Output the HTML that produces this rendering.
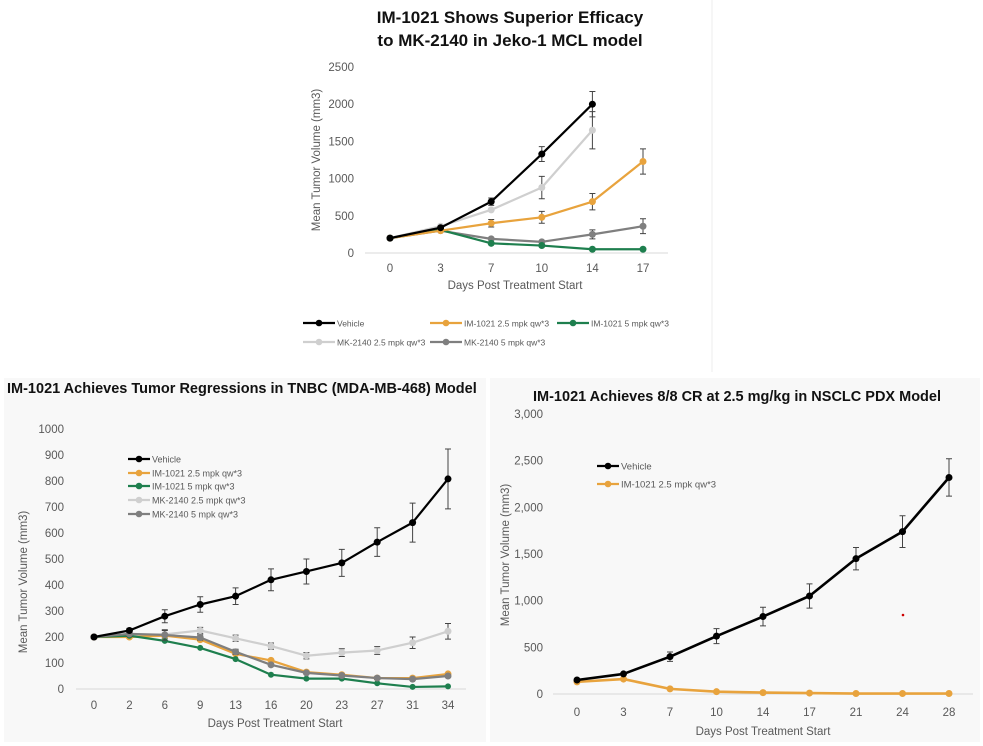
<!DOCTYPE html>
<html><head><meta charset="utf-8">
<style>
html,body{margin:0;padding:0;background:#fff;}
svg{display:block;font-family:"Liberation Sans",sans-serif;}
</style></head>
<body>
<svg id="c" width="983" height="746" viewBox="0 0 983 746">
<rect x="4" y="378" width="482" height="364" fill="#f8f8f8"/>
<rect x="490" y="378" width="490" height="364" fill="#f8f8f8"/>
<line x1="712" y1="0" x2="712" y2="372" stroke="#eee"/>
<text x="510" y="23" font-size="17" font-weight="bold" text-anchor="middle" fill="#111">IM-1021 Shows Superior Efficacy</text>
<text x="510" y="46" font-size="17" font-weight="bold" text-anchor="middle" fill="#111">to MK-2140 in Jeko-1 MCL model</text>
<text x="7" y="393" font-size="14.5" font-weight="bold" fill="#111">IM-1021 Achieves Tumor Regressions in TNBC (MDA-MB-468) Model</text>
<text x="737" y="401" font-size="14.5" font-weight="bold" text-anchor="middle" fill="#111">IM-1021 Achieves 8/8 CR at 2.5 mg/kg in NSCLC PDX Model</text>
<circle cx="903" cy="615" r="1.3" fill="#c00"/>
</svg>
<script>
// ---- Top chart (Jeko-1) ----
const topDays = ["0","3","7","10","14","17"];
const topTicks = [0,500,1000,1500,2000,2500];
const topVehicle = [200,340,690,1330,2000,null];
const topVehicleErr = [0,0,50,100,170,0];
const topMk25 = [200,360,580,880,1650,null];
const topMk25Err = [0,0,0,150,250,0];
const topIm25 = [200,300,400,480,690,1230];
const topIm25Err = [0,0,50,80,110,170];
const topIm5 = [200,310,130,100,50,50];
const topIm5Err = [0,0,0,0,0,0];
const topMk5 = [200,300,190,150,250,360];
const topMk5Err = [0,0,0,0,60,100];
// ---- TNBC chart ----
const tnbcDays = ["0","2","6","9","13","16","20","23","27","31","34"];
const tnbcTicks = [0,100,200,300,400,500,600,700,800,900,1000];
const tnbcVehicle = [200,225,280,325,357,420,452,485,565,640,808];
const tnbcVehicleErr = [0,8,25,30,32,42,48,52,55,75,115];
const tnbcMk25 = [200,210,210,225,195,165,128,140,148,178,222];
const tnbcMk25Err = [0,10,15,12,12,12,12,15,15,22,30];
const tnbcIm25 = [200,200,205,190,135,110,65,55,42,42,58];
const tnbcIm5 = [200,205,185,158,115,55,40,40,22,8,10];
const tnbcMk5 = [200,212,208,198,143,93,62,52,42,38,50];
const tnbcMk5Err = [0,10,20,10,10,5,5,5,5,5,5];
// ---- NSCLC chart ----
const nsDays = ["0","3","7","10","14","17","21","24","28"];
const nsTicks = [0,500,1000,1500,2000,2500,3000];
const nsTickLabels = ["0","500","1,000","1,500","2,000","2,500","3,000"];
const nsVehicle = [150,215,400,620,830,1050,1450,1740,2320];
const nsVehicleErr = [0,0,50,80,100,130,120,170,200];
const nsIm25 = [130,160,55,25,15,10,5,5,5];

const svg = document.getElementById('c');
const NS = 'http://www.w3.org/2000/svg';
function mk(tag, attrs, parent){
  const e = document.createElementNS(NS, tag);
  for (const k in attrs) e.setAttribute(k, attrs[k]);
  (parent||svg).appendChild(e);
  return e;
}
const BLACK='#000', ORANGE='#e8a33d', GREEN='#1e7f4e', LGRAY='#cfcfcf', DGRAY='#7f7f7f';

function chart(cfg){
  const g = mk('g', {});
  
  
  const n = cfg.cats.length;
  const xs = i => cfg.x0 + i*(cfg.x1-cfg.x0)/(n-1);
  const ys = v => cfg.y0 - (v/cfg.ymax)*(cfg.y0-cfg.ytop);
  const ax = mk('line', {x1:cfg.ax0, x2:cfg.ax1, y1:cfg.y0, y2:cfg.y0, stroke:'#d9d9d9', 'stroke-width':1}, g);
  
  
  cfg.ticks.forEach((t,i)=>{
    const tx = mk('text', {x:cfg.ylx, y:ys(t)+4, 'font-size':cfg.fs, fill:'#595959', 'text-anchor':'end'}, g);
    tx.textContent = cfg.tickLabels ? cfg.tickLabels[i] : t;
    
    
  });
  cfg.cats.forEach((c,i)=>{
    const tx = mk('text', {x:xs(i), y:cfg.xly, 'font-size':cfg.fs, fill:'#595959', 'text-anchor':'middle'}, g);
    tx.textContent = c;
    
    
  });
  const xt = mk('text', {x:cfg.xtx, y:cfg.xty, 'font-size':cfg.fs, fill:'#595959', 'text-anchor':'middle'}, g);
  xt.textContent = 'Days Post Treatment Start';
  
  
  const yt = mk('text', {x:0, y:0, 'font-size':cfg.fs, fill:'#595959', 'text-anchor':'middle', transform:`translate(${cfg.ytx},${cfg.yty}) rotate(-90)`}, g);
  yt.textContent = 'Mean Tumor Volume (mm3)';
  
  
  cfg.series.forEach(s=>{
    const sg = mk('g', {}, g);
    
    
    if (s.err) s.vals.forEach((v,i)=>{
      if (v==null || !s.err[i]) return;
      const x = xs(i), a = ys(v+s.err[i]), b = ys(v-s.err[i]);
      const el = mk('path', {d:`M${x},${a}V${b}M${x-3},${a}H${x+3}M${x-3},${b}H${x+3}`, stroke:'#444', 'stroke-width':1, fill:'none'}, sg);
      
      
    });
    let d = '';
    s.vals.forEach((v,i)=>{ if (v==null) return; d += (d?'L':'M') + xs(i) + ',' + ys(v); });
    const ln = mk('path', {d:d, stroke:s.color, 'stroke-width':s.w||2.2, fill:'none', 'stroke-linejoin':'round'}, sg);
    
    
    s.vals.forEach((v,i)=>{
      if (v==null) return;
      const p = mk('circle', {cx:xs(i), cy:ys(v), r:s.r||3.5, fill:s.color}, sg);
      
      
    });
  });
  cfg.legend.forEach(L=>{
    const lg = mk('g', {}, g);
    
    
    mk('line', {x1:L.x, x2:L.x+L.len, y1:L.y, y2:L.y, stroke:L.color, 'stroke-width':2.2}, lg);
    mk('circle', {cx:L.x+L.len/2, cy:L.y, r:3.3, fill:L.color}, lg);
    const t = mk('text', {x:L.x+L.len+2, y:L.y+3.5, 'font-size':L.fs, fill:'#595959'}, lg);
    t.textContent = L.label;
  });
}

chart({name:'jeko-chart', cats:topDays, ticks:topTicks, ymax:2500, x0:390, x1:643, y0:253, ytop:67, ax0:365, ax1:668,
  ylx:354, xly:272, fs:11.5, xtx:515, xty:289, ytx:320, yty:160,
  series:[
    {key:'mk2140-5', vals:topMk5, err:topMk5Err, color:DGRAY},
    {key:'im1021-5', vals:topIm5, err:topIm5Err, color:GREEN},
    {key:'im1021-2.5', vals:topIm25, err:topIm25Err, color:ORANGE},
    {key:'mk2140-2.5', vals:topMk25, err:topMk25Err, color:LGRAY},
    {key:'vehicle', vals:topVehicle, err:topVehicleErr, color:BLACK}],
  legend:[
    {x:303,y:323,len:32,color:BLACK,label:'Vehicle',fs:8.5},
    {x:430,y:323,len:32,color:ORANGE,label:'IM-1021 2.5 mpk qw*3',fs:8.5},
    {x:557,y:323,len:32,color:GREEN,label:'IM-1021 5 mpk qw*3',fs:8.5},
    {x:303,y:342,len:32,color:LGRAY,label:'MK-2140 2.5 mpk qw*3',fs:8.5},
    {x:430,y:342,len:32,color:DGRAY,label:'MK-2140 5 mpk qw*3',fs:8.5}]
});

chart({name:'tnbc-chart', cats:tnbcDays, ticks:tnbcTicks, ymax:1000, x0:94, x1:448, y0:689, ytop:429, ax0:76, ax1:466,
  ylx:64, xly:709, fs:11.5, xtx:275, xty:727, ytx:27, yty:582,
  series:[
    {key:'mk2140-2.5', vals:tnbcMk25, err:tnbcMk25Err, color:LGRAY},
    {key:'im1021-2.5', vals:tnbcIm25, color:ORANGE},
    {key:'im1021-5', vals:tnbcIm5, color:GREEN, r:3},
    {key:'mk2140-5', vals:tnbcMk5, err:tnbcMk5Err, color:DGRAY},
    {key:'vehicle', vals:tnbcVehicle, err:tnbcVehicleErr, color:BLACK}],
  legend:[
    {x:128,y:459,len:22,color:BLACK,label:'Vehicle',fs:9},
    {x:128,y:473,len:22,color:ORANGE,label:'IM-1021 2.5 mpk qw*3',fs:9},
    {x:128,y:486,len:22,color:GREEN,label:'IM-1021 5 mpk qw*3',fs:9},
    {x:128,y:500,len:22,color:LGRAY,label:'MK-2140 2.5 mpk qw*3',fs:9},
    {x:128,y:514,len:22,color:DGRAY,label:'MK-2140 5 mpk qw*3',fs:9}]
});

chart({name:'nsclc-chart', cats:nsDays, ticks:nsTicks, tickLabels:nsTickLabels, ymax:3000, x0:577, x1:949, y0:694, ytop:414, ax0:553, ax1:973,
  ylx:543, xly:716, fs:11.5, xtx:763, xty:735, ytx:509, yty:555,
  series:[
    {key:'im1021-2.5', vals:nsIm25, color:ORANGE, w:2.6},
    {key:'vehicle', vals:nsVehicle, err:nsVehicleErr, color:BLACK, w:2.6}],
  legend:[
    {x:597,y:466,len:22,color:BLACK,label:'Vehicle',fs:9.5},
    {x:597,y:484,len:22,color:ORANGE,label:'IM-1021 2.5 mpk qw*3',fs:9.5}]
});
</script>
</body></html>
